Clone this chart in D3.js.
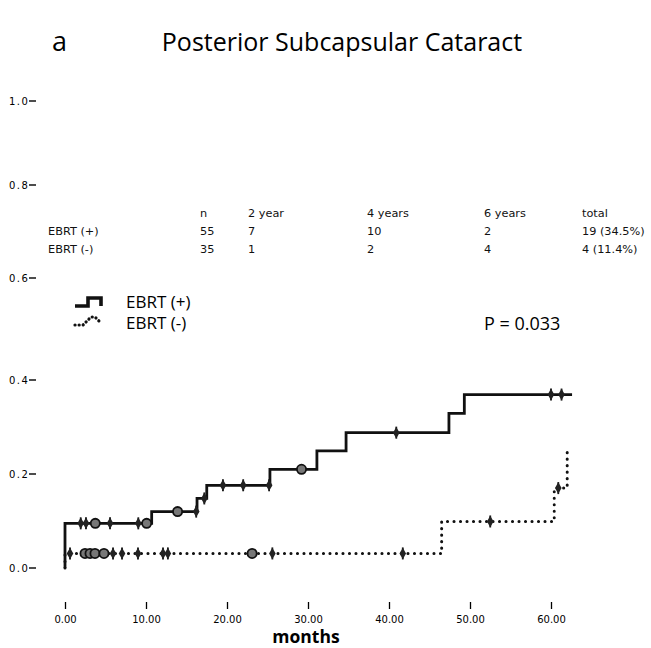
<!DOCTYPE html>
<html><head><meta charset="utf-8">
<script src="https://cdn.jsdelivr.net/npm/d3@7"></script>
<style>body{margin:0;background:#fff}svg{display:block}</style>
</head><body>
<svg id="c" width="651" height="648"></svg>
<script>
// ---- data ----
const yTicks = [0, 0.2, 0.4, 0.6, 0.8, 1.0];
const xTicks = [0, 10, 20, 30, 40, 50, 60];
// EBRT(+) cumulative incidence steps: [months, value]
const plusTimes  = [0, 0,     10.7,  16.3,  17.5,  25.3,  31.1,  34.7,  47.4,  49.3,  62.6];
const plusValues = [0, 0.095, 0.120, 0.148, 0.176, 0.210, 0.249, 0.288, 0.329, 0.369, 0.369];
const plusCensor = [1.94, 2.59, 3.74, 5.56, 9.05, 10.08, 13.9, 16.2, 17.2, 19.5, 22.0, 25.2, 29.2, 40.9, 60.0, 61.3];
const plusCensorRound = [3.74, 10.08, 13.9, 29.2];
// EBRT(-)
const minusTimes  = [0, 0,     46.5,  60.4,  62.0];
const minusValues = [0, 0.031, 0.099, 0.170, 0.249];
const minusCensor = [0.62, 2.47, 3.09, 3.7, 4.81, 5.93, 7.04, 9.01, 12.1, 12.7, 23.1, 25.6, 41.7, 52.5, 60.9];
const minusCensorRound = [2.47, 3.09, 3.7, 4.81, 23.1];
// table
const tableHeader = ["", "n", "2 year", "4 years", "6 years", "total"];
const tableRowPlus = ["EBRT (+)", "55", "7", "10", "2", "19 (34.5%)"];
const tableRowMinus = ["EBRT (-)", "35", "1", "2", "4", "4 (11.4%)"];
const legendLabels = ["EBRT (+)", "EBRT (-)"];
const pValue = "P = 0.033";

// ---- drawing ----
const svg = d3.select("#c");
const x = d3.scaleLinear().domain([0, 60]).range([65, 551]);
const y = d3.scaleLinear().domain(yTicks).range([568, 474, 380, 278, 185, 101]);

svg.append("text").attr("x", 52).attr("y", 51).attr("font-family", "Open Sans, sans-serif")
  .attr("font-size", 27).text("a");
svg.append("text").attr("x", 342).attr("y", 51).attr("text-anchor", "middle")
  .attr("font-family", "Open Sans, sans-serif").attr("font-size", 25).text("Posterior Subcapsular Cataract");

// y axis labels with dash ticks
const yg = svg.append("g");
yTicks.forEach(t => {
  yg.append("text").attr("x", 9).attr("y", y(t)).attr("dy", "0.35em")
    .attr("font-family", "DejaVu Sans, sans-serif").attr("font-size", 10).attr("letter-spacing", 1.5)
    .text(d3.format(".1f")(t));
  yg.append("line").attr("x1", 29).attr("x2", 36).attr("y1", y(t)).attr("y2", y(t))
    .attr("stroke", "#000").attr("stroke-width", 1.4);
});

// x axis via d3 axis
const xa = svg.append("g").attr("transform", "translate(0,602)")
  .call(d3.axisBottom(x).tickValues(xTicks).tickSize(7).tickPadding(7).tickFormat(d3.format(".2f")));
xa.select(".domain").remove();
xa.selectAll("line").attr("stroke", "#000").attr("stroke-width", 1.3);
xa.selectAll("text").attr("font-family", "DejaVu Sans, sans-serif").attr("font-size", 10).attr("fill", "#000");

svg.append("text").attr("x", 306).attr("y", 643).attr("text-anchor", "middle")
  .attr("font-family", "Open Sans, sans-serif").attr("font-weight", "bold").attr("font-size", 17.5).text("months");

// curves
const line = d3.line().x(d => x(d[0])).y(d => y(d[1])).curve(d3.curveStepAfter);
const plusPts = plusTimes.map((t, i) => [t, plusValues[i]]);
const minusPts = minusTimes.map((t, i) => [t, minusValues[i]]);

svg.append("path").attr("d", line(minusPts)).attr("fill", "none").attr("stroke", "#111")
  .attr("stroke-width", 3).attr("stroke-linecap", "round").attr("stroke-dasharray", "0.1 6.4");
svg.append("path").attr("d", line(plusPts)).attr("fill", "none").attr("stroke", "#111")
  .attr("stroke-width", 2.8);

function levelAt(times, values, t) {
  let v = 0;
  for (let i = 0; i < times.length; i++) if (times[i] <= t) v = values[i];
  return v;
}
function drawCensor(times, values, cens, round) {
  const g = svg.append("g");
  cens.forEach(t => {
    const cx = x(t), cy = y(levelAt(times, values, t));
    if (round.includes(t)) {
      g.append("circle").attr("cx", cx).attr("cy", cy).attr("r", 4.6)
        .attr("fill", "#777").attr("stroke", "#111").attr("stroke-width", 1.8);
    } else {
      g.append("line").attr("x1", cx).attr("x2", cx).attr("y1", cy - 6).attr("y2", cy + 6)
        .attr("stroke", "#111").attr("stroke-width", 1.8);
      g.append("path").attr("transform", `translate(${cx},${cy})`)
        .attr("d", d3.symbol(d3.symbolDiamond, 38)()).attr("fill", "#222");
    }
  });
}
drawCensor(plusTimes, plusValues, plusCensor, plusCensorRound);
drawCensor(minusTimes, minusValues, minusCensor, minusCensorRound);

// table
const colX = [48, 200, 248, 367, 484, 582];
const rowY = [213, 231, 249];
[tableHeader, tableRowPlus, tableRowMinus].forEach((row, r) => {
  row.forEach((cell, c) => {
    svg.append("text").attr("x", colX[c]).attr("y", rowY[r]).attr("dy", "0.35em")
      .attr("font-family", "DejaVu Sans, sans-serif").attr("font-size", 11.3).attr("fill", "#111")
      .text(cell);
  });
});

// legend
const lg = svg.append("g");
const iconPlus = [[0, 8], [13, 8], [13, 0], [26, 0], [26, 8]];
const iconMinus = [[0, 9], [8, 9], [16, 1], [20, 1], [26, 7]];
const iconLine = d3.line();
lg.append("path").attr("transform", "translate(75,298)").attr("d", iconLine(iconPlus))
  .attr("fill", "none").attr("stroke", "#111").attr("stroke-width", 3.6);
lg.append("path").attr("transform", "translate(75,316)").attr("d", iconLine(iconMinus))
  .attr("fill", "none").attr("stroke", "#111").attr("stroke-width", 3.2).attr("stroke-linecap", "round")
  .attr("stroke-dasharray", "0.1 4");
legendLabels.forEach((l, i) => {
  lg.append("text").attr("x", 126).attr("y", 302 + i * 21).attr("dy", "0.35em")
    .attr("font-family", "Open Sans, sans-serif").attr("font-size", 17).text(l);
});
svg.append("text").attr("x", 484).attr("y", 324).attr("dy", "0.35em")
  .attr("font-family", "Open Sans, sans-serif").attr("font-size", 18).text(pValue);
</script>
</body></html>
